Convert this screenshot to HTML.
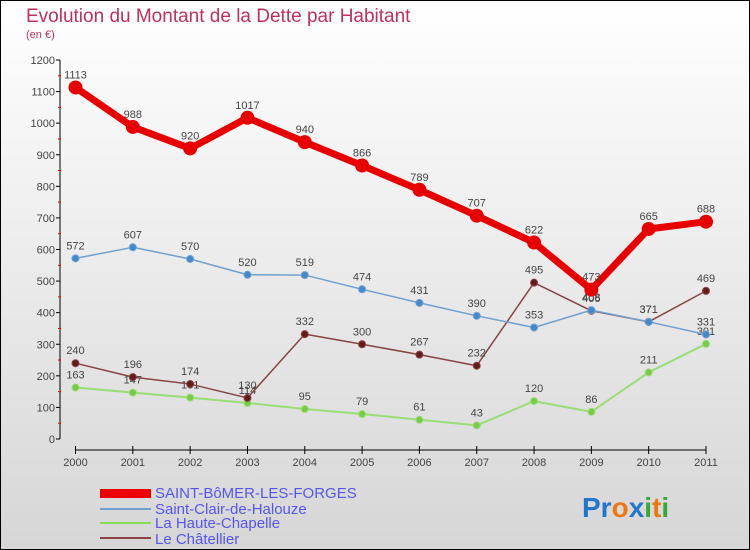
<!DOCTYPE html>
<html><head><meta charset="utf-8"><style>
body{margin:0}
svg{display:block;font-family:"Liberation Sans","DejaVu Sans",sans-serif}
</style></head><body>
<svg id="c" width="750" height="550" xmlns="http://www.w3.org/2000/svg">
<defs><linearGradient id="bg" x1="0" y1="0" x2="0" y2="1"><stop offset="0" stop-color="#ffffff"/><stop offset="1" stop-color="#d6d6d6"/></linearGradient></defs>
<rect x="0.5" y="0.5" width="749" height="549" fill="url(#bg)" stroke="#000"/>
<text x="26" y="22" font-size="19" fill="#c0305a">Evolution du Montant de la Dette par Habitant</text>
<text x="26" y="38" font-size="11" fill="#c0305a">(en €)</text>
<g id="axes"></g><g id="series"></g>
<g>
<rect x="100" y="489" width="51" height="9" fill="#e00"/>
<text x="155" y="498" font-size="15" fill="#5555ee">SAINT-BôMER-LES-FORGES</text>
<line x1="100" y1="509" x2="151" y2="509" stroke="#6fa0d0" stroke-width="2"/>
<text x="155" y="514" font-size="15" fill="#5555ee">Saint-Clair-de-Halouze</text>
<line x1="100" y1="523" x2="151" y2="523" stroke="#88dd55" stroke-width="2"/>
<text x="155" y="528" font-size="15" fill="#5555ee">La Haute-Chapelle</text>
<line x1="100" y1="538" x2="151" y2="538" stroke="#884444" stroke-width="2"/>
<text x="155" y="544" font-size="15" fill="#5555ee">Le Châtellier</text>
</g>
<text x="582" y="517" font-size="28" font-weight="bold"><tspan fill="#2277cc">Pr</tspan><tspan fill="#ee7711">o</tspan><tspan fill="#2277cc">x</tspan><tspan fill="#33aa33">i</tspan><tspan fill="#ee7711">t</tspan><tspan fill="#33aa33">i</tspan></text>
</svg>
<script>
const years=[2000,2001,2002,2003,2004,2005,2006,2007,2008,2009,2010,2011];
const yTicks=[0,100,200,300,400,500,600,700,800,900,1000,1100,1200];
const saintBomer=[1113,988,920,1017,940,866,789,707,622,473,665,688];
const saintClair=[572,607,570,520,519,474,431,390,353,408,371,331];
const hauteChapelle=[163,147,131,114,95,79,61,43,120,86,211,301];
const chatellier=[240,196,174,130,332,300,267,232,495,406,371,469];
const NS="http://www.w3.org/2000/svg";
const X=i=>75.5+i*(706-75.5)/11;
const Y=v=>439-v*(379/1200);
function mk(t,a,p){const e=document.createElementNS(NS,t);for(const k in a)e.setAttribute(k,a[k]);p.appendChild(e);return e;}
const ax=document.getElementById('axes');
mk('line',{x1:60,y1:Y(0),x2:60,y2:Y(1200),stroke:'#000'},ax);
yTicks.forEach(v=>{
 mk('line',{x1:56,y1:Y(v),x2:60,y2:Y(v),stroke:'#000'},ax);
 if(v<1200)mk('line',{x1:58,y1:Y(v+50),x2:61,y2:Y(v+50),stroke:'#e00'},ax);
 const t=mk('text',{x:55,y:Y(v)+4,'font-size':11,fill:'#444','text-anchor':'end'},ax);t.textContent=v;
 
 
});
mk('line',{x1:X(0),y1:450,x2:X(11),y2:450,stroke:'#000'},ax);
years.forEach((y,i)=>{
 mk('line',{x1:X(i),y1:446,x2:X(i),y2:454,stroke:'#000'},ax);
 const t=mk('text',{x:X(i),y:466,'font-size':11,fill:'#444','text-anchor':'middle'},ax);t.textContent=y;
 
 
});
const sg=document.getElementById('series');
function draw(vals,color,w,r,dot,name){
 const g=mk('g',{},sg);
 
 
 mk('polyline',{points:vals.map((v,i)=>X(i)+','+Y(v)).join(' '),fill:'none',stroke:color,'stroke-width':w,'stroke-linejoin':'round'},g);
 vals.forEach((v,i)=>{
  const c=mk('circle',{cx:X(i),cy:Y(v),r:r,fill:dot,stroke:color,'stroke-width':1},g);
  
  
  const t=mk('text',{x:X(i),y:Y(v)-9,'font-size':11,fill:'#444','text-anchor':'middle'},g);t.textContent=v;
 });
}
draw(hauteChapelle,'#99dd77',2,3.5,'#77cc44','series-haute-chapelle');
draw(chatellier,'#884444',1.5,3.5,'#661a1a','series-chatellier');
draw(saintClair,'#6fa0d0',1.5,3.5,'#4488cc','series-saint-clair');
draw(saintBomer,'#e80000',7,6.5,'#e80000','series-saint-bomer');
</script>
</body></html>
